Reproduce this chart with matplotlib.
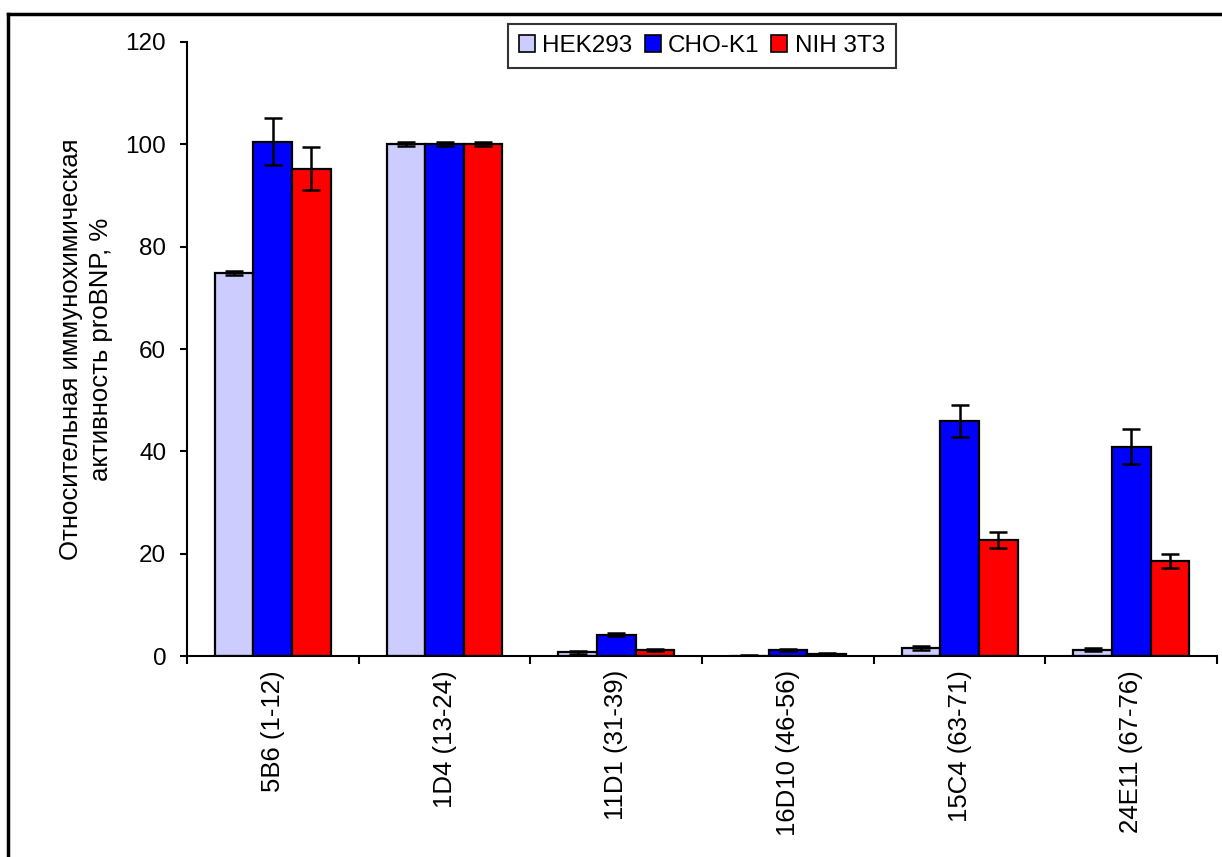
import matplotlib
matplotlib.use("Agg")
import matplotlib.pyplot as plt
from matplotlib.lines import Line2D
import numpy as np

plt.rcParams['font.family'] = ['Liberation Sans', 'DejaVu Sans']

antibodies = ["5B6 (1-12)", "1D4 (13-24)", "11D1 (31-39)", "16D10 (46-56)",
              "15C4 (63-71)", "24E11 (67-76)"]
series_names = ["HEK293", "CHO-K1", "NIH 3T3"]
hek293 = [74.8, 100.0, 0.7, 0.1, 1.5, 1.2]
cho_k1 = [100.5, 100.0, 4.2, 1.2, 45.9, 40.9]
nih3t3 = [95.2, 100.0, 1.1, 0.4, 22.7, 18.6]
hek293_err = [0.4, 0.4, 0.3, 0.1, 0.4, 0.3]
cho_k1_err = [4.6, 0.4, 0.3, 0.2, 3.1, 3.4]
nih3t3_err = [4.2, 0.4, 0.2, 0.1, 1.6, 1.4]
colors = ["#ccccff", "#0000ff", "#ff0000"]
yticks = [0, 20, 40, 60, 80, 100, 120]

FS = 17.5

fig = plt.figure(figsize=(12.22, 8.57), dpi=100)
ax = fig.add_axes([0.153, 0.2345, 0.843, 0.7165])

n = len(antibodies)
centers = np.arange(n) + 0.5
width = 0.225
values = [hek293, cho_k1, nih3t3]
errors = [hek293_err, cho_k1_err, nih3t3_err]
for k, (vals, errs, col, name) in enumerate(zip(values, errors, colors, series_names)):
    pos = centers + (k - 1) * width
    ax.bar(pos, vals, width=width, color=col, edgecolor="black", linewidth=1.6,
           label=name, zorder=2)
    ax.errorbar(pos, vals, yerr=errs, fmt="none", ecolor="black", elinewidth=1.8,
                capsize=6.5, capthick=1.8, zorder=3)

ax.set_xlim(0, n)
ax.set_ylim(0, 120)
ax.set_yticks(yticks)
ax.set_yticklabels([str(v) for v in yticks], fontsize=FS)
ax.set_xticks(np.arange(n + 1))
ax.set_xticklabels([])
ax.set_xticks(centers, minor=True)
ax.set_xticklabels(antibodies, minor=True, rotation=90, fontsize=18.5)
ax.tick_params(axis="x", which="minor", length=0, pad=10)
ax.tick_params(axis="x", which="major", length=6, width=1.5, direction="out")
ax.tick_params(axis="y", length=5, width=1.5, direction="out", pad=10)

for side in ("top", "right"):
    ax.spines[side].set_visible(False)
for side in ("left", "bottom"):
    ax.spines[side].set_linewidth(1.5)

ax.set_ylabel("Относительная иммунохимическая\nактивность proBNP, %", fontsize=18.5,
              labelpad=9, linespacing=1.3)

leg = fig.legend(*ax.get_legend_handles_labels(), loc="upper center",
                 bbox_to_anchor=(0.5745, 1 - 24 / 857), ncol=3, fontsize=FS,
                 frameon=True, fancybox=False, handlelength=0.65, handleheight=0.65,
                 handletextpad=0.3, columnspacing=0.5, borderpad=0.45,
                 borderaxespad=0)
leg.get_frame().set_edgecolor("black")
leg.get_frame().set_linewidth(1.5)
for h in leg.legend_handles:
    h.set_linewidth(1.2)

# outer frame of the chart area
fig.add_artist(Line2D([8 / 1222, 8 / 1222], [0, 1 - 14 / 857], transform=fig.transFigure,
                      color="black", linewidth=2.5))
fig.add_artist(Line2D([8 / 1222, 1], [1 - 14 / 857, 1 - 14 / 857], transform=fig.transFigure,
                      color="black", linewidth=2.5))

fig.savefig("out.png", dpi=100)
